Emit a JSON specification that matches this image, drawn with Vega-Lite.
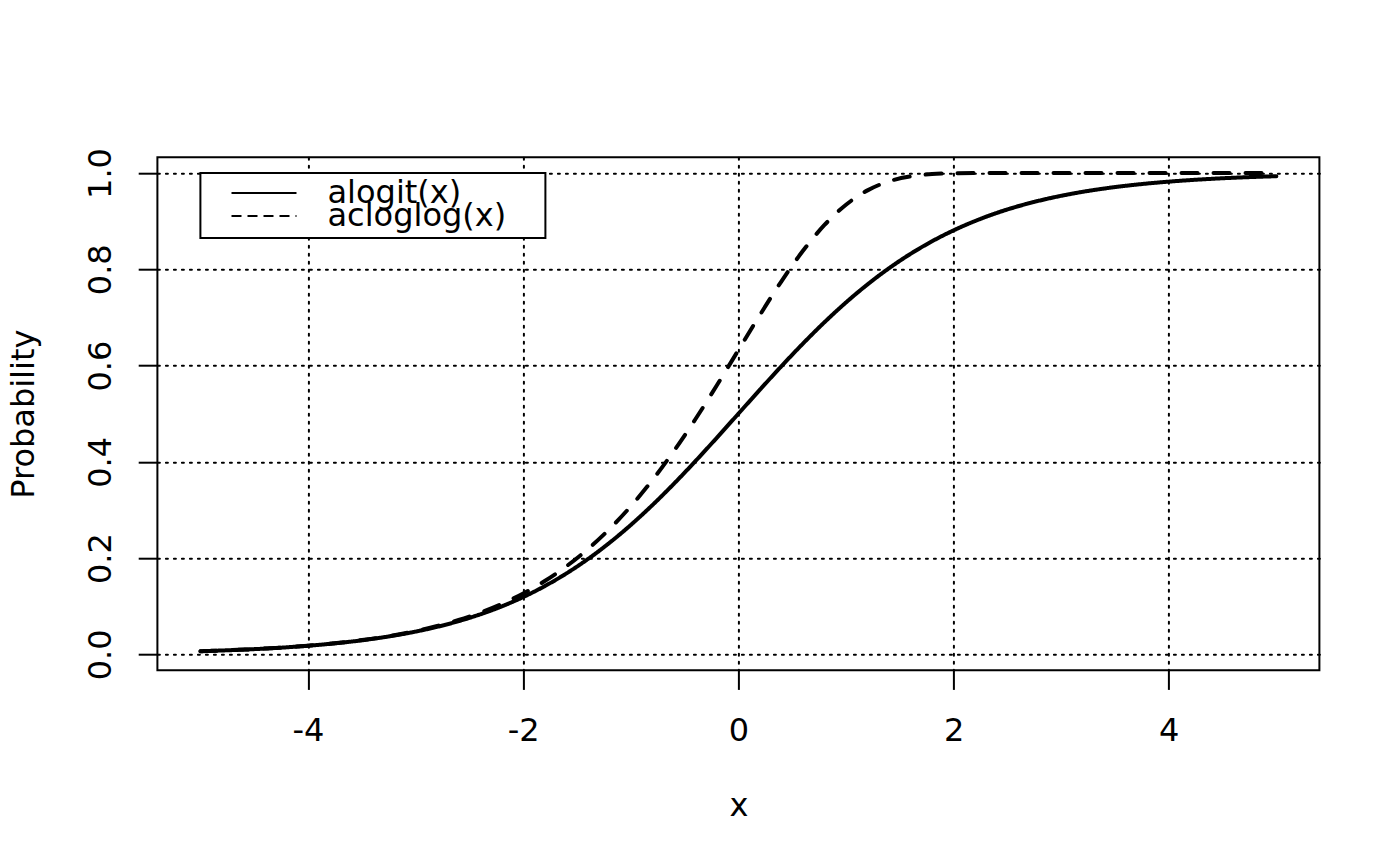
{
  "$schema": "https://vega.github.io/schema/vega-lite/v6.json",
  "width": 1162,
  "height": 513,
  "autosize": "none",
  "padding": {"left": 157.4, "top": 157.2, "right": 80.6, "bottom": 195.8},
  "background": "white",
  "config": {
    "font": "DejaVu Sans",
    "view": {"stroke": "black", "strokeWidth": 2},
    "legend": {
      "orient": "none",
      "legendX": 43,
      "legendY": 15.8,
      "strokeColor": "black",
      "strokeWidth": 2,
      "fillColor": "white",
      "padding": 5,
      "rowPadding": -20,
      "clipHeight": 12.8,
      "titleFontSize": 1,
      "titlePadding": 7.7,
      "titleAnchor": "start",
      "symbolType": "stroke",
      "symbolSize": 4225,
      "symbolStrokeWidth": 2,
      "symbolStrokeColor": "black",
      "symbolOffset": 25.1,
      "labelOffset": 30,
      "labelFont": "DejaVu Sans",
      "labelFontSize": 32,
      "labelColor": "black",
      "labelLimit": 1000
    }
  },
  "data": {
    "values": [
      {"x": -5, "series": "alogit(x)", "p": 0.006693},
      {"x": -4.8, "series": "alogit(x)", "p": 0.008163},
      {"x": -4.6, "series": "alogit(x)", "p": 0.009952},
      {"x": -4.4, "series": "alogit(x)", "p": 0.012128},
      {"x": -4.2, "series": "alogit(x)", "p": 0.014774},
      {"x": -4, "series": "alogit(x)", "p": 0.017986},
      {"x": -3.8, "series": "alogit(x)", "p": 0.021881},
      {"x": -3.6, "series": "alogit(x)", "p": 0.026597},
      {"x": -3.4, "series": "alogit(x)", "p": 0.032295},
      {"x": -3.2, "series": "alogit(x)", "p": 0.039166},
      {"x": -3, "series": "alogit(x)", "p": 0.047426},
      {"x": -2.8, "series": "alogit(x)", "p": 0.057324},
      {"x": -2.6, "series": "alogit(x)", "p": 0.069138},
      {"x": -2.4, "series": "alogit(x)", "p": 0.083173},
      {"x": -2.2, "series": "alogit(x)", "p": 0.09975},
      {"x": -2, "series": "alogit(x)", "p": 0.119203},
      {"x": -1.8, "series": "alogit(x)", "p": 0.141851},
      {"x": -1.6, "series": "alogit(x)", "p": 0.167982},
      {"x": -1.4, "series": "alogit(x)", "p": 0.197816},
      {"x": -1.2, "series": "alogit(x)", "p": 0.231475},
      {"x": -1, "series": "alogit(x)", "p": 0.268941},
      {"x": -0.8, "series": "alogit(x)", "p": 0.310026},
      {"x": -0.6, "series": "alogit(x)", "p": 0.354344},
      {"x": -0.4, "series": "alogit(x)", "p": 0.401312},
      {"x": -0.2, "series": "alogit(x)", "p": 0.450166},
      {"x": 0, "series": "alogit(x)", "p": 0.5},
      {"x": 0.2, "series": "alogit(x)", "p": 0.549834},
      {"x": 0.4, "series": "alogit(x)", "p": 0.598688},
      {"x": 0.6, "series": "alogit(x)", "p": 0.645656},
      {"x": 0.8, "series": "alogit(x)", "p": 0.689974},
      {"x": 1, "series": "alogit(x)", "p": 0.731059},
      {"x": 1.2, "series": "alogit(x)", "p": 0.768525},
      {"x": 1.4, "series": "alogit(x)", "p": 0.802184},
      {"x": 1.6, "series": "alogit(x)", "p": 0.832018},
      {"x": 1.8, "series": "alogit(x)", "p": 0.858149},
      {"x": 2, "series": "alogit(x)", "p": 0.880797},
      {"x": 2.2, "series": "alogit(x)", "p": 0.90025},
      {"x": 2.4, "series": "alogit(x)", "p": 0.916827},
      {"x": 2.6, "series": "alogit(x)", "p": 0.930862},
      {"x": 2.8, "series": "alogit(x)", "p": 0.942676},
      {"x": 3, "series": "alogit(x)", "p": 0.952574},
      {"x": 3.2, "series": "alogit(x)", "p": 0.960834},
      {"x": 3.4, "series": "alogit(x)", "p": 0.967705},
      {"x": 3.6, "series": "alogit(x)", "p": 0.973403},
      {"x": 3.8, "series": "alogit(x)", "p": 0.978119},
      {"x": 4, "series": "alogit(x)", "p": 0.982014},
      {"x": 4.2, "series": "alogit(x)", "p": 0.985226},
      {"x": 4.4, "series": "alogit(x)", "p": 0.987872},
      {"x": 4.6, "series": "alogit(x)", "p": 0.990048},
      {"x": 4.8, "series": "alogit(x)", "p": 0.991837},
      {"x": 5, "series": "alogit(x)", "p": 0.993307},
      {"x": -5, "series": "acloglog(x)", "p": 0.006715},
      {"x": -4.8, "series": "acloglog(x)", "p": 0.008196},
      {"x": -4.6, "series": "acloglog(x)", "p": 0.010002},
      {"x": -4.4, "series": "acloglog(x)", "p": 0.012202},
      {"x": -4.2, "series": "acloglog(x)", "p": 0.014884},
      {"x": -4, "series": "acloglog(x)", "p": 0.018149},
      {"x": -3.8, "series": "acloglog(x)", "p": 0.022123},
      {"x": -3.6, "series": "acloglog(x)", "p": 0.026954},
      {"x": -3.4, "series": "acloglog(x)", "p": 0.032822},
      {"x": -3.2, "series": "acloglog(x)", "p": 0.039942},
      {"x": -3, "series": "acloglog(x)", "p": 0.048568},
      {"x": -2.8, "series": "acloglog(x)", "p": 0.058998},
      {"x": -2.6, "series": "acloglog(x)", "p": 0.071583},
      {"x": -2.4, "series": "acloglog(x)", "p": 0.086725},
      {"x": -2.2, "series": "acloglog(x)", "p": 0.104885},
      {"x": -2, "series": "acloglog(x)", "p": 0.126577},
      {"x": -1.8, "series": "acloglog(x)", "p": 0.152359},
      {"x": -1.6, "series": "acloglog(x)", "p": 0.18282},
      {"x": -1.4, "series": "acloglog(x)", "p": 0.218544},
      {"x": -1.2, "series": "acloglog(x)", "p": 0.260066},
      {"x": -1, "series": "acloglog(x)", "p": 0.307799},
      {"x": -0.8, "series": "acloglog(x)", "p": 0.361944},
      {"x": -0.6, "series": "acloglog(x)", "p": 0.422364},
      {"x": -0.4, "series": "acloglog(x)", "p": 0.488455},
      {"x": -0.2, "series": "acloglog(x)", "p": 0.559009},
      {"x": 0, "series": "acloglog(x)", "p": 0.632121},
      {"x": 0.2, "series": "acloglog(x)", "p": 0.705184},
      {"x": 0.4, "series": "acloglog(x)", "p": 0.775038},
      {"x": 0.6, "series": "acloglog(x)", "p": 0.838317},
      {"x": 0.8, "series": "acloglog(x)", "p": 0.891991},
      {"x": 1, "series": "acloglog(x)", "p": 0.934012},
      {"x": 1.2, "series": "acloglog(x)", "p": 0.963852},
      {"x": 1.4, "series": "acloglog(x)", "p": 0.982668},
      {"x": 1.6, "series": "acloglog(x)", "p": 0.992938},
      {"x": 1.8, "series": "acloglog(x)", "p": 0.997641},
      {"x": 2, "series": "acloglog(x)", "p": 0.999382},
      {"x": 2.2, "series": "acloglog(x)", "p": 0.99988},
      {"x": 2.4, "series": "acloglog(x)", "p": 0.999984},
      {"x": 2.6, "series": "acloglog(x)", "p": 0.999999},
      {"x": 2.8, "series": "acloglog(x)", "p": 1},
      {"x": 3, "series": "acloglog(x)", "p": 1},
      {"x": 3.2, "series": "acloglog(x)", "p": 1},
      {"x": 3.4, "series": "acloglog(x)", "p": 1},
      {"x": 3.6, "series": "acloglog(x)", "p": 1},
      {"x": 3.8, "series": "acloglog(x)", "p": 1},
      {"x": 4, "series": "acloglog(x)", "p": 1},
      {"x": 4.2, "series": "acloglog(x)", "p": 1},
      {"x": 4.4, "series": "acloglog(x)", "p": 1},
      {"x": 4.6, "series": "acloglog(x)", "p": 1},
      {"x": 4.8, "series": "acloglog(x)", "p": 1},
      {"x": 5, "series": "acloglog(x)", "p": 1}
    ]
  },
  "encoding": {
    "x": {
      "field": "x",
      "type": "quantitative",
      "scale": {"domain": [-5.4, 5.4], "nice": false, "zero": false},
      "axis": {
        "values": [-4, -2, 0, 2, 4],
        "labelExpr": "'' + datum.value",
        "title": "x",
        "grid": true,
        "gridColor": "black",
        "gridDash": [2, 6],
        "gridWidth": 2,
        "gridCap": "round",
        "gridOpacity": 1,
        "domain": false,
        "ticks": true,
        "tickSize": 19.2,
        "tickWidth": 2,
        "tickColor": "black",
        "labelFont": "DejaVu Sans",
        "labelFontSize": 32,
        "labelColor": "black",
        "labelPadding": 51,
        "labelBaseline": "alphabetic",
        "labelFlush": false,
        "labelOverlap": false,
        "titleFont": "DejaVu Sans",
        "titleFontSize": 32,
        "titleFontWeight": "normal",
        "titleColor": "black",
        "titleX": 581,
        "titleY": 145,
        "titleAlign": "center",
        "titleBaseline": "alphabetic"
      }
    },
    "y": {
      "field": "p",
      "type": "quantitative",
      "scale": {"domain": [-0.03277, 1.03277], "nice": false, "zero": false},
      "axis": {
        "values": [0, 0.2, 0.4, 0.6, 0.8, 1],
        "format": ".1f",
        "title": "Probability",
        "grid": true,
        "gridColor": "black",
        "gridDash": [2, 6],
        "gridWidth": 2,
        "gridCap": "round",
        "gridOpacity": 1,
        "domain": false,
        "ticks": true,
        "tickSize": 19.2,
        "tickWidth": 2,
        "tickColor": "black",
        "labelFont": "DejaVu Sans",
        "labelFontSize": 32,
        "labelColor": "black",
        "labelAngle": 270,
        "labelAlign": "center",
        "labelBaseline": "alphabetic",
        "labelPadding": 27.6,
        "labelFlush": false,
        "labelOverlap": false,
        "titleFont": "DejaVu Sans",
        "titleFontSize": 32,
        "titleFontWeight": "normal",
        "titleColor": "black",
        "titleAngle": 270,
        "titleX": -124,
        "titleY": 256.5,
        "titleAlign": "center",
        "titleBaseline": "alphabetic"
      }
    }
  },
  "layer": [
    {
      "mark": {"type": "line", "color": "black", "strokeWidth": 4, "strokeCap": "round", "strokeJoin": "round", "interpolate": "monotone"},
      "encoding": {
        "strokeDash": {
          "field": "series",
          "type": "nominal",
          "scale": {"domain": ["alogit(x)", "acloglog(x)"], "range": [[1, 0], [16, 16]]},
          "legend": null
        }
      }
    },
    {
      "transform": [{"filter": "false"}],
      "mark": {"type": "line", "color": "black", "strokeWidth": 2},
      "encoding": {
        "strokeDash": {
          "field": "series",
          "type": "nominal",
          "scale": {"domain": ["alogit(x)", "acloglog(x)"], "range": [[1, 0], [10, 6]]},
          "legend": {"title": "\u200b", "labelExpr": "datum.label + '\u00a0\u00a0\u00a0\u200a\u200b'"}
        }
      }
    }
  ],
  "resolve": {"scale": {"strokeDash": "independent"}, "legend": {"strokeDash": "independent"}}
}
